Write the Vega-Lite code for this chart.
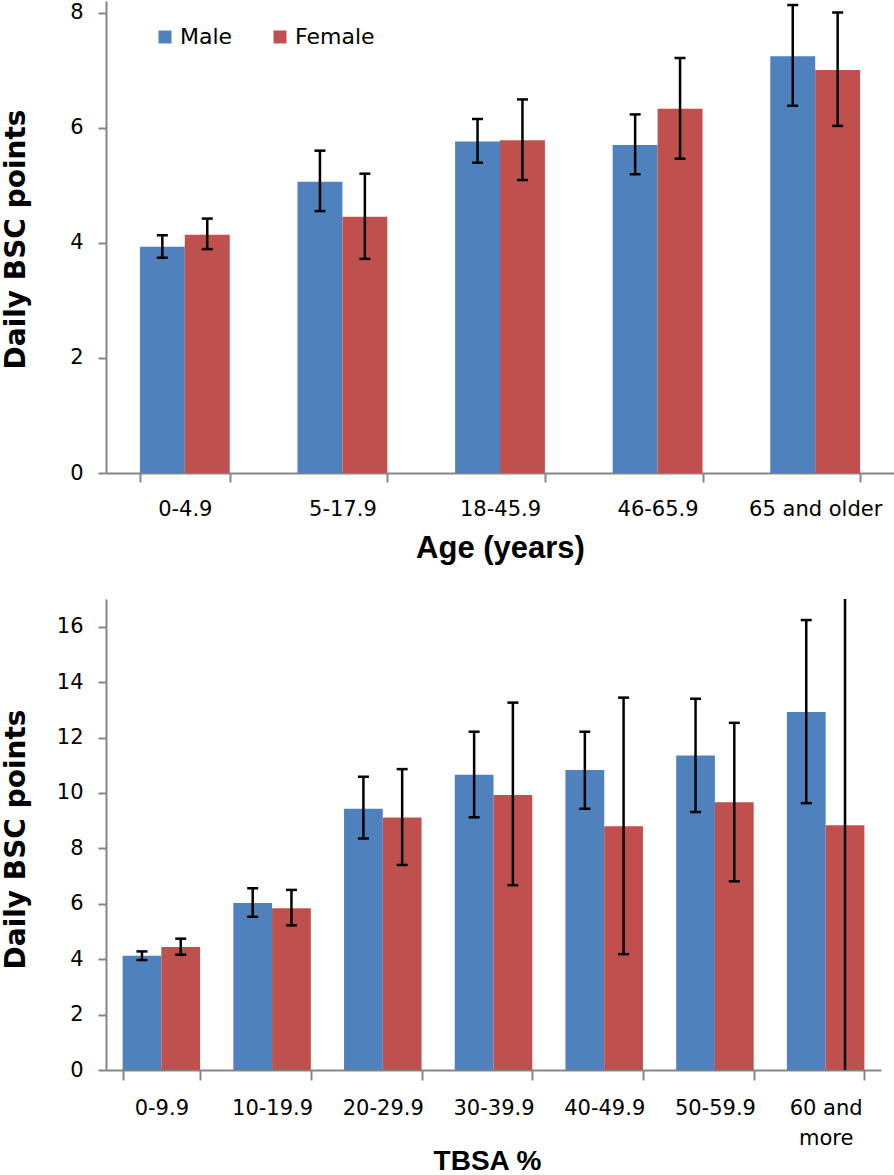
{
  "$schema": "https://vega.github.io/schema/vega-lite/v6.json",
  "padding": {"left": 2, "top": 1, "right": 0, "bottom": 0},
  "bounds": "flush",
  "spacing": 126,
  "config": {
    "view": {"stroke": null},
    "axis": {
      "domainColor": "#868686", "domainWidth": 2, "tickColor": "#868686", "tickWidth": 2,
      "labelColor": "#000000", "labelFont": "DejaVu Sans", "labelFontSize": 21,
      "titleColor": "#000000", "grid": false
    },
    "axisY": {"tickSize": 8, "labelPadding": 15, "format": "d", "titleFont": "DejaVu Sans", "titleFontWeight": "bold", "titleFontSize": 28, "titleBaseline": "alphabetic", "titleX": -82},
    "axisX": {"tickSize": 9, "labelPadding": 16, "labelAngle": 0, "tickBand": "extent", "titleFont": "Liberation Sans", "titleFontWeight": "bold", "titleBaseline": "alphabetic"}
  },
  "datasets": {
    "age": [
      {"group": "0-4.9", "sex": "Male", "mean": 3.93, "lo": 3.74, "hi": 4.13},
      {"group": "0-4.9", "sex": "Female", "mean": 4.14, "lo": 3.89, "hi": 4.42},
      {"group": "5-17.9", "sex": "Male", "mean": 5.06, "lo": 4.55, "hi": 5.60},
      {"group": "5-17.9", "sex": "Female", "mean": 4.45, "lo": 3.72, "hi": 5.20},
      {"group": "18-45.9", "sex": "Male", "mean": 5.76, "lo": 5.39, "hi": 6.15},
      {"group": "18-45.9", "sex": "Female", "mean": 5.78, "lo": 5.09, "hi": 6.49},
      {"group": "46-65.9", "sex": "Male", "mean": 5.70, "lo": 5.19, "hi": 6.23},
      {"group": "46-65.9", "sex": "Female", "mean": 6.33, "lo": 5.46, "hi": 7.21},
      {"group": "65 and older", "sex": "Male", "mean": 7.24, "lo": 6.38, "hi": 8.13},
      {"group": "65 and older", "sex": "Female", "mean": 7.00, "lo": 6.03, "hi": 8.00}
    ],
    "tbsa": [
      {"group": "0-9.9", "sex": "Male", "mean": 4.12, "lo": 3.97, "hi": 4.28},
      {"group": "0-9.9", "sex": "Female", "mean": 4.44, "lo": 4.16, "hi": 4.74},
      {"group": "10-19.9", "sex": "Male", "mean": 6.03, "lo": 5.53, "hi": 6.56},
      {"group": "10-19.9", "sex": "Female", "mean": 5.84, "lo": 5.22, "hi": 6.50},
      {"group": "20-29.9", "sex": "Male", "mean": 9.43, "lo": 8.36, "hi": 10.58},
      {"group": "20-29.9", "sex": "Female", "mean": 9.11, "lo": 7.40, "hi": 10.86},
      {"group": "30-39.9", "sex": "Male", "mean": 10.66, "lo": 9.12, "hi": 12.21},
      {"group": "30-39.9", "sex": "Female", "mean": 9.93, "lo": 6.67, "hi": 13.26},
      {"group": "40-49.9", "sex": "Male", "mean": 10.83, "lo": 9.43, "hi": 12.21},
      {"group": "40-49.9", "sex": "Female", "mean": 8.80, "lo": 4.18, "hi": 13.44},
      {"group": "50-59.9", "sex": "Male", "mean": 11.35, "lo": 9.31, "hi": 13.40},
      {"group": "50-59.9", "sex": "Female", "mean": 9.66, "lo": 6.81, "hi": 12.53},
      {"group": "60 and more", "sex": "Male", "mean": 12.92, "lo": 9.63, "hi": 16.24},
      {"group": "60 and more", "sex": "Female", "mean": 8.83, "lo": 0, "hi": 17.7}
    ]
  },
  "vconcat": [
    {
      "width": 788, "height": 472,
      "data": {"name": "age"},
      "encoding": {
        "x": {"field": "group", "type": "nominal", "sort": null, "scale": {"paddingInner": 0.43, "paddingOuter": 0.215}, "axis": {"title": "Age (years)", "titleFontSize": 31, "titleY": 84}},
        "xOffset": {"field": "sex", "type": "nominal", "sort": ["Male", "Female"]}
      },
      "layer": [
        {
          "mark": {"type": "bar"},
          "encoding": {
            "y": {"field": "mean", "type": "quantitative", "title": "Daily BSC points", "scale": {"domain": [0, 8.2], "nice": false}, "axis": {"values": [0, 2, 4, 6, 8], "titleY": 238}},
            "color": {"field": "sex", "type": "nominal", "sort": ["Male", "Female"], "scale": {"domain": ["Male", "Female"], "range": ["#4F81BD", "#C0504D"]},
              "legend": {"orient": "none", "legendX": 48, "legendY": 25, "direction": "horizontal", "title": null, "symbolType": "square", "symbolSize": 169, "symbolStrokeWidth": 0, "symbolOpacity": 1, "labelFont": "DejaVu Sans", "labelFontSize": 22, "labelColor": "#000000", "labelOffset": 4, "columnPadding": 36, "padding": 0}}
          }
        },
        {
          "mark": {"type": "rule", "color": "#000000", "strokeWidth": 2.5},
          "encoding": {"y": {"field": "lo", "type": "quantitative", "title": "Daily BSC points"}, "y2": {"field": "hi"}}
        },
        {
          "mark": {"type": "tick", "color": "#000000", "size": 11, "thickness": 2.5, "opacity": 1},
          "encoding": {"y": {"field": "lo", "type": "quantitative", "title": "Daily BSC points"}}
        },
        {
          "mark": {"type": "tick", "color": "#000000", "size": 11, "thickness": 2.5, "opacity": 1},
          "encoding": {"y": {"field": "hi", "type": "quantitative", "title": "Daily BSC points"}}
        }
      ]
    },
    {
      "width": 775, "height": 471,
      "data": {"name": "tbsa"},
      "encoding": {
        "x": {"field": "group", "type": "nominal", "sort": null, "scale": {"paddingInner": 0.3, "paddingOuter": 0.15},
          "axis": {"title": "TBSA %", "titleFontSize": 28, "titleY": 99, "titleX": 381, "tickSize": 10, "labelPadding": 17, "labelLineHeight": 30,
            "labelExpr": "datum.label == '60 and more' ? ['60 and', 'more'] : datum.label"}},
        "xOffset": {"field": "sex", "type": "nominal", "sort": ["Male", "Female"]}
      },
      "layer": [
        {
          "mark": {"type": "bar"},
          "encoding": {
            "y": {"field": "mean", "type": "quantitative", "title": "Daily BSC points", "scale": {"domain": [0, 17], "nice": false}, "axis": {"values": [0, 2, 4, 6, 8, 10, 12, 14, 16], "titleY": 240}},
            "color": {"field": "sex", "type": "nominal", "sort": ["Male", "Female"], "scale": {"domain": ["Male", "Female"], "range": ["#4F81BD", "#C0504D"]}, "legend": null}
          }
        },
        {
          "mark": {"type": "rule", "color": "#000000", "strokeWidth": 2.5, "clip": true},
          "encoding": {"y": {"field": "lo", "type": "quantitative", "title": "Daily BSC points"}, "y2": {"field": "hi"}}
        },
        {
          "transform": [{"filter": "datum.hi < 17"}],
          "mark": {"type": "tick", "color": "#000000", "size": 11, "thickness": 2.5, "opacity": 1},
          "encoding": {"y": {"field": "lo", "type": "quantitative", "title": "Daily BSC points"}}
        },
        {
          "transform": [{"filter": "datum.hi < 17"}],
          "mark": {"type": "tick", "color": "#000000", "size": 11, "thickness": 2.5, "opacity": 1},
          "encoding": {"y": {"field": "hi", "type": "quantitative", "title": "Daily BSC points"}}
        }
      ]
    }
  ],
  "resolve": {"scale": {"x": "independent", "y": "independent", "color": "independent", "xOffset": "independent"}}
}
